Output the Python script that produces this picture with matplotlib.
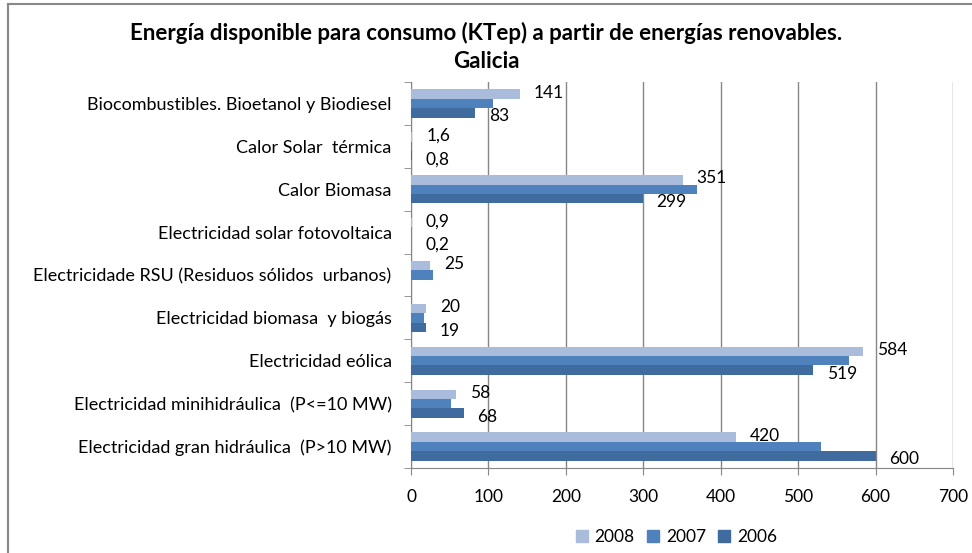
import numpy as np
import matplotlib.pyplot as plt
from matplotlib.patches import Patch
from matplotlib.lines import Line2D

plt.rcParams["font.family"] = ["Lato", "DejaVu Sans"]

categories = [
    "Biocombustibles. Bioetanol y Biodiesel",
    "Calor Solar  térmica",
    "Calor Biomasa",
    "Electricidad solar fotovoltaica",
    "Electricidade RSU (Residuos sólidos  urbanos)",
    "Electricidad biomasa  y biogás",
    "Electricidad eólica",
    "Electricidad minihidráulica  (P<=10 MW)",
    "Electricidad gran hidráulica  (P>10 MW)",
]
v2008 = [141, 1.6, 351, 0.9, 25, 20, 584, 58, 420]
v2007 = [106, 1.2, 370, 0.5, 28, 17, 566, 52, 530]
v2006 = [83, 0.8, 299, 0.2, 0, 19, 519, 68, 600]
labels2008 = ["141", "1,6", "351", "0,9", "25", "20", "584", "58", "420"]
labels2006 = ["83", "0,8", "299", "0,2", "", "19", "519", "68", "600"]

colors = {"2008": "#A9BCDB", "2007": "#4F81BD", "2006": "#3F6B9F"}

fig = plt.figure(figsize=(9.72, 5.53), dpi=100)
ax = fig.add_axes([411 / 972, 1 - 468 / 553, (953 - 411) / 972, (468 - 82) / 553])

y = np.arange(len(categories))
h = 0.22
ax.barh(y - h, v2008, height=h, color=colors["2008"], label="2008", zorder=3)
ax.barh(y, v2007, height=h, color=colors["2007"], label="2007", zorder=3)
ax.barh(y + h, v2006, height=h, color=colors["2006"], label="2006", zorder=3)

for i in range(len(categories)):
    ax.annotate(labels2008[i], xy=(v2008[i], y[i] - h), xytext=(10, 1),
                textcoords="offset points", fontsize=12.5, va="center", ha="left")
    if labels2006[i]:
        ax.annotate(labels2006[i], xy=(v2006[i], y[i] + h), xytext=(10, -2.5),
                    textcoords="offset points", fontsize=12.5, va="center", ha="left")

ax.set_ylim(len(categories) - 0.5, -0.5)
ax.set_xlim(0, 700)
ax.set_xticks(np.arange(0, 701, 100))
ax.set_yticks(y)
ax.set_yticklabels(categories, fontsize=13)
ax.set_yticks(np.arange(-0.5, len(categories), 1), minor=True)
ax.tick_params(axis="y", which="major", length=0, pad=14)
ax.tick_params(axis="y", which="minor", length=5, color="#868686")
ax.tick_params(axis="x", length=5, color="#868686", labelsize=12.5, pad=10)
ax.grid(axis="x", color="#868686", linewidth=1, zorder=0)
for s in ["top", "right"]:
    ax.spines[s].set_visible(False)
for s in ["left", "bottom"]:
    ax.spines[s].set_color("#868686")

fig.text(0.5, 1 - 33 / 553, "Energía disponible para consumo (KTep) a partir de energías renovables.",
         ha="center", va="center", fontsize=16, fontweight="bold")
fig.text(0.5, 1 - 61 / 553, "Galicia", ha="center", va="center", fontsize=16, fontweight="bold")

handles = [Patch(color=colors[k]) for k in ["2008", "2007", "2006"]]
fig.legend(handles, ["2008", "2007", "2006"], loc="center", bbox_to_anchor=(0.696, 1 - 537 / 553),
           ncol=3, frameon=False, fontsize=12.5, handlelength=0.7, handleheight=0.7,
           columnspacing=0.7, handletextpad=0.4)

fig.add_artist(Line2D([8 / 972, 8 / 972], [0, 1 - 4 / 553], color="#888888", lw=1.5))
fig.add_artist(Line2D([8 / 972, 1], [1 - 4 / 553, 1 - 4 / 553], color="#888888", lw=1.5))

fig.savefig("out.png", dpi=100)
